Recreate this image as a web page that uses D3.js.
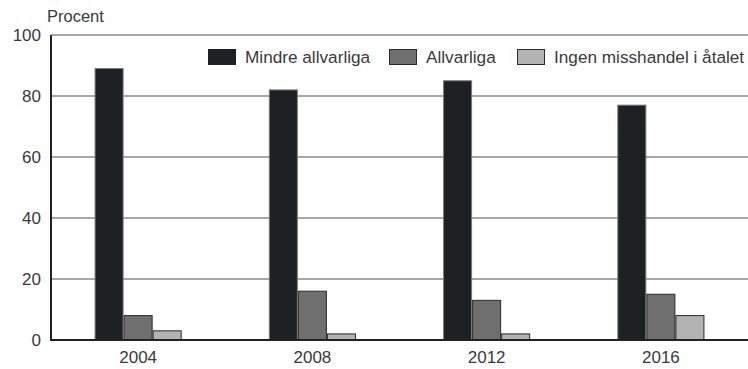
<!DOCTYPE html>
<html>
<head>
<meta charset="utf-8">
<script src="https://cdn.jsdelivr.net/npm/d3@7"></script>
<style>
  html, body { margin: 0; padding: 0; background: #fff; }
  svg { display: block; font-family: "Liberation Sans", "Noto Sans", sans-serif; }
</style>
</head>
<body>
<svg id="chart" width="748" height="369"></svg>
<script>
// Andel åtal per år och typ av misshandel (procent)
const years = ["2004", "2008", "2012", "2016"];
const seriesNames = ["Mindre allvarliga", "Allvarliga", "Ingen misshandel i åtalet"];
const mindreAllvarliga = [89, 82, 85, 77];
const allvarliga = [8, 16, 13, 15];
const ingenMisshandel = [3, 2, 2, 8];
const yTicks = [0, 20, 40, 60, 80, 100];

const seriesValues = [mindreAllvarliga, allvarliga, ingenMisshandel];
const fills = ["#1f2022", "#6f6f6f", "#b3b3b3"];
const strokes = ["#7a7a7a", "#2a2a2a", "#2a2a2a"];
const textColor = "#3a3a3a";

const svg = d3.select("#chart");
const plotLeft = 51, plotRight = 748, plotTop = 35, plotBottom = 340;

const x = d3.scaleBand().domain(years).range([plotLeft, plotRight])
  .paddingInner(0.5).paddingOuter(0.25);
const xs = d3.scaleBand().domain(seriesNames).range([0, x.bandwidth()]);
const y = d3.scaleLinear().domain([0, 100]).range([plotBottom, plotTop]);

// Stödlinjer
svg.append("g").selectAll("line").data(yTicks.filter(d => d > 0)).join("line")
  .attr("x1", plotLeft).attr("x2", plotRight)
  .attr("y1", d => y(d)).attr("y2", d => y(d))
  .attr("stroke", "#8a8a8a").attr("stroke-width", 1.6);

// Staplar
const rows = years.map((yr, i) => seriesNames.map((s, j) => ({ yr, s, j, v: seriesValues[j][i] })));
svg.append("g").selectAll("g").data(rows).join("g")
  .attr("transform", d => `translate(${x(d[0].yr)},0)`)
  .selectAll("rect").data(d => d).join("rect")
  .attr("x", d => xs(d.s) + 0.5)
  .attr("width", xs.bandwidth() - 1)
  .attr("y", d => y(d.v))
  .attr("height", d => y(0) - y(d.v))
  .attr("fill", d => fills[d.j])
  .attr("stroke", d => strokes[d.j])
  .attr("stroke-width", 1);

// Axlar
svg.append("line").attr("x1", plotLeft).attr("x2", plotLeft).attr("y1", plotTop).attr("y2", plotBottom)
  .attr("stroke", "#222").attr("stroke-width", 2);
svg.append("line").attr("x1", plotLeft - 1).attr("x2", plotRight).attr("y1", plotBottom).attr("y2", plotBottom)
  .attr("stroke", "#222").attr("stroke-width", 2);

const yAxis = d3.axisLeft(y).tickValues(yTicks).tickSize(0).tickPadding(10);
const gy = svg.append("g").attr("transform", `translate(${plotLeft},0)`).call(yAxis);
gy.select(".domain").remove();
gy.selectAll("text").attr("font-size", 17).attr("fill", textColor);

const xAxis = d3.axisBottom(x).tickSize(0).tickPadding(11);
const gx = svg.append("g").attr("transform", `translate(0,${plotBottom})`).call(xAxis);
gx.select(".domain").remove();
gx.selectAll("text").attr("font-size", 17).attr("fill", textColor);

svg.append("text").attr("x", 47).attr("y", 22).text("Procent")
  .attr("font-size", 16.5).attr("fill", textColor);

// Teckenförklaring
const legendX = [208, 389, 517];
const lg = svg.append("g").selectAll("g").data(seriesNames).join("g")
  .attr("transform", (d, i) => `translate(${legendX[i]},49)`);
lg.append("rect").attr("width", 27).attr("height", 15)
  .attr("x", 0.5).attr("y", 0.5)
  .attr("fill", (d, i) => fills[i]).attr("stroke", (d, i) => i === 0 ? fills[0] : "#2a2a2a");
lg.append("text").attr("x", 37).attr("y", 14).text(d => d)
  .attr("font-size", 17.2).attr("fill", textColor);
</script>
</body>
</html>
